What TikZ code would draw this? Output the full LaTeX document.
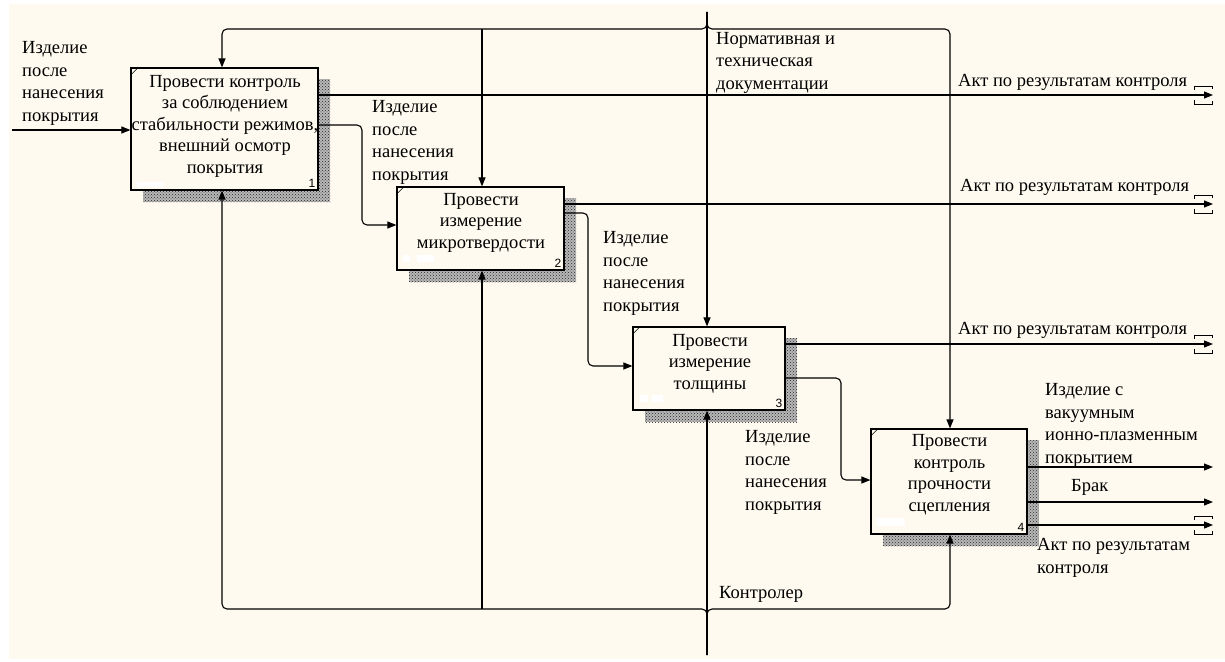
\documentclass[tikz,border=0pt]{standalone}
\usepackage{fontspec}
\setmainfont{Liberation Serif}
\newfontfamily\numfont{Liberation Sans}
\usetikzlibrary{arrows.meta,patterns,calc}
\definecolor{paper}{RGB}{254,250,239}

% short tunnel brackets around an arrow tip
\newcommand\tunnelend[1]{%
  \draw[line width=0.9pt] ($(#1)+(-19,-5)$) -- ++(0,-4) -- ++(18,0) -- ++(0,3);
  \draw[line width=0.9pt] ($(#1)+(-19,5)$) -- ++(0,4) -- ++(18,0) -- ++(0,-3);
}

\begin{document}
\begin{tikzpicture}[x=1pt,y=-1pt,
  txt/.style={font=\fontsize{18.5}{22.5}\selectfont, inner sep=0pt},
  lbl/.style={txt, anchor=base west, align=left},
  boxtext/.style={txt, anchor=base, align=center, font=\fontsize{18.5}{21.5}\selectfont},
  actbox/.style={draw, line width=1.2pt, fill=paper, inner sep=0pt},
  num/.style={font=\numfont\fontsize{12}{12}\selectfont, inner sep=0pt, anchor=south east},
  flow/.style={line width=1.1pt, rounded corners=5pt, -{Triangle[length=9pt,width=7pt]}}]

\useasboundingbox (0,0) rectangle (1225,661);
\fill[white] (0,0) rectangle (1225,661);
\fill[paper] (9,4) rectangle (1225,659);

% activity boxes with hatched shadows
\foreach \n/\cx/\cy/\w/\h in {b1/224.5/129/187/122, b2/480.5/228.5/167/83,
                               b3/709/368.5/152/83, b4/949/481.5/156/105}{
  \fill[black!28] (\cx-\w/2+12,\cy-\h/2+11) rectangle (\cx+\w/2+12,\cy+\h/2+12);
  \fill[pattern=crosshatch dots, pattern color=black!85]
    (\cx-\w/2+12,\cy-\h/2+11) rectangle (\cx+\w/2+12,\cy+\h/2+12);
  \node[actbox, minimum width=\w pt, minimum height=\h pt] (\n) at (\cx,\cy) {};
  \draw[line width=0.6pt] ($(\n.north west)+(0,8)$) -- ($(\n.north west)+(8,0)$);
}
\fill[white] (137,182) rectangle (163,187);
\fill[white] (403,255) rectangle (410,262) (417,255) rectangle (434,262);
\fill[white] (640,395) rectangle (648,402) (652,395) rectangle (663,402);
\fill[white] (877,518) rectangle (905,526);

\node[num] (n1) at ($(b1.south east)+(-3,-3)$) {1};
\node[num] (n2) at ($(b2.south east)+(-3,-3)$) {2};
\node[num] (n3) at ($(b3.south east)+(-3,-3)$) {3};
\node[num] (n4) at ($(b4.south east)+(-3,-3)$) {4};

% box texts (anchored at the baseline of their last line)
\node[boxtext] (t1) at (225,173) {Провести контроль\\за соблюдением\\стабильности режимов,\\внешний осмотр\\покрытия};
\node[boxtext] (t2) at (481,248) {Провести\\измерение\\микротвердости};
\node[boxtext] (t3) at (710,389) {Провести\\измерение\\толщины};
\node[boxtext] (t4) at (949.5,511) {Провести\\контроль\\прочности\\сцепления};

% input
\coordinate (in1) at (12,130);
\draw[flow] (in1) -- (b1.west |- in1);

% controls from the top
\coordinate (ctop) at (707,12);
\coordinate (c1) at (222,29);
\coordinate (c2) at (482,29);
\coordinate (c4) at (950,29);
\draw[flow] (ctop) -- (ctop |- b3.north);
\draw[flow] (ctop) |- (c1) -- (c1 |- b1.north);
\draw[flow] (c2) -- (c2 |- b2.north);
\draw[flow] (ctop) |- (c4) -- (c4 |- b4.north);

% mechanism from the bottom
\coordinate (mbot) at (707,655);
\coordinate (m1) at (222,609);
\coordinate (m2) at (482,609);
\coordinate (m4) at (950,609);
\draw[flow] (mbot) -- (mbot |- b3.south);
\draw[flow] (mbot) |- (m1) -- (m1 |- b1.south);
\draw[flow] (m2) -- (m2 |- b2.south);
\draw[flow] (mbot) |- (m4) -- (m4 |- b4.south);

% product passed from box to box
\coordinate (j1a) at (362,125);
\coordinate (j1b) at (362,225);
\draw[flow] (b1.east |- j1a) -- (j1a) -- (j1b) -- (b2.west |- j1b);
\coordinate (j2a) at (588,213);
\coordinate (j2b) at (588,366);
\draw[flow] (b2.east |- j2a) -- (j2a) -- (j2b) -- (b3.west |- j2b);
\coordinate (j3a) at (841,378);
\coordinate (j3b) at (841,480);
\draw[flow] (b3.east |- j3a) -- (j3a) -- (j3b) -- (b4.west |- j3b);

% outputs to the right edge
\coordinate (o1) at (1213,95);
\coordinate (o2) at (1213,204);
\coordinate (o3) at (1213,344);
\coordinate (o4a) at (1213,467);
\coordinate (o4b) at (1213,502);
\coordinate (o4c) at (1213,525);
\draw[flow] (b1.east |- o1) -- (o1);
\draw[flow] (b2.east |- o2) -- (o2);
\draw[flow] (b3.east |- o3) -- (o3);
\draw[flow] (b4.east |- o4a) -- (o4a);
\draw[flow] (b4.east |- o4b) -- (o4b);
\draw[flow] (b4.east |- o4c) -- (o4c);
\tunnelend{o1}
\tunnelend{o2}
\tunnelend{o3}
\tunnelend{o4c}

% arrow labels (anchored at the baseline of their last line)
\node[lbl] (lin) at (22,121) {Изделие\\после\\нанесения\\покрытия};
\node[lbl] (lctl) at (716,89) {Нормативная и\\техническая\\документации};
\node[lbl] (lj1) at (372,180) {Изделие\\после\\нанесения\\покрытия};
\node[lbl] (lj2) at (603,311) {Изделие\\после\\нанесения\\покрытия};
\node[lbl] (lj3) at (745,510) {Изделие\\после\\нанесения\\покрытия};
\node[lbl] (lo1) at (958,86) {Акт по результатам контроля};
\node[lbl] (lo2) at (960,191) {Акт по результатам контроля};
\node[lbl] (lo3) at (958,334) {Акт по результатам контроля};
\node[lbl] (lo4a) at (1045,463) {Изделие с\\вакуумным\\ионно-плазменным\\покрытием};
\node[lbl] (lo4b) at (1071,491) {Брак};
\node[lbl] (lo4c) at (1037,573) {Акт по результатам\\контроля};
\node[lbl] (lmech) at (719,598) {Контролер};

\end{tikzpicture}
\end{document}
